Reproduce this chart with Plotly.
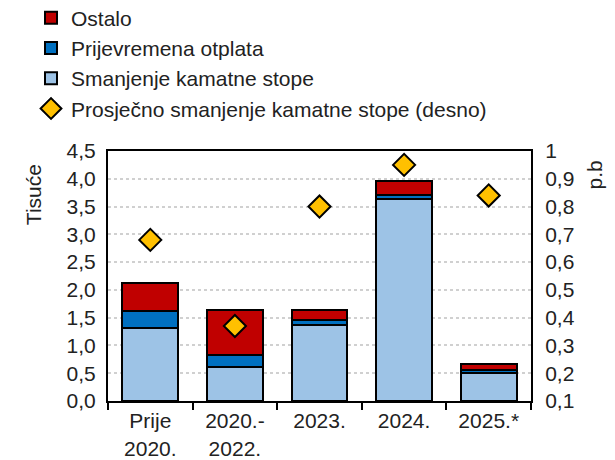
import plotly.graph_objects as go

categories = ["Prije<br>2020.", "2020.-<br>2022.", "2023.", "2024.", "2025.*"]

smanjenje = [1.31, 0.62, 1.37, 3.64, 0.50]
prijevremena = [0.31, 0.21, 0.08, 0.06, 0.06]
ostalo = [0.51, 0.80, 0.18, 0.26, 0.11]
prosjecno = [0.68, 0.37, 0.80, 0.95, 0.84]

left_ticks = [0, 0.5, 1, 1.5, 2, 2.5, 3, 3.5, 4, 4.5]
right_ticks = [0.1, 0.2, 0.3, 0.4, 0.5, 0.6, 0.7, 0.8, 0.9, 1.0]
right_labels = ["0,1", "0,2", "0,3", "0,4", "0,5", "0,6", "0,7", "0,8", "0,9", "1"]

FONT = "Liberation Sans, Arial, sans-serif"

fig = go.Figure()

fig.add_trace(go.Bar(x=categories, y=smanjenje, name="Smanjenje kamatne stope",
                     marker=dict(color="#9DC3E6", line=dict(color="black", width=2)),
                     legendgroup="c", legendrank=3))
fig.add_trace(go.Bar(x=categories, y=prijevremena, name="Prijevremena otplata",
                     marker=dict(color="#0070C0", line=dict(color="black", width=2)),
                     legendgroup="b", legendrank=2))
fig.add_trace(go.Bar(x=categories, y=ostalo, name="Ostalo",
                     marker=dict(color="#C00000", line=dict(color="black", width=2)),
                     legendgroup="a", legendrank=1))
fig.add_trace(go.Scatter(x=categories, y=prosjecno, yaxis="y2", mode="markers",
                         name="Prosječno smanjenje kamatne stope (desno)",
                         marker=dict(symbol="diamond", size=17, color="#FFC000",
                                     line=dict(color="black", width=2)),
                         legendgroup="d", legendrank=4))

fig.update_layout(
    width=615, height=460,
    margin=dict(l=100, r=92, t=143, b=67, autoexpand=False),
    paper_bgcolor="white", plot_bgcolor="white",
    font=dict(family=FONT, size=21, color="#222222"),
    separators=", ",
    barmode="stack", bargap=0.34,
    showlegend=True,
    legend=dict(x=-0.182, y=1.614, xanchor="left", yanchor="top", orientation="v",
                traceorder="grouped", tracegroupgap=0,
                font=dict(size=21), bgcolor="rgba(0,0,0,0)"),
    xaxis=dict(type="category", showline=True, linecolor="black", linewidth=2,
               mirror=True, ticks="outside", tickson="boundaries", ticklen=7,
               tickcolor="black", tickwidth=2, showgrid=False),
    yaxis=dict(range=[0, 4.5], tickvals=left_ticks, tickformat=".1f",
               showline=True, linecolor="black", linewidth=2,
               showgrid=True, gridcolor="#d0d0d0", griddash="dot", gridwidth=1.5,
               zeroline=False, ticks="", ticklabelstandoff=6),
    yaxis2=dict(range=[0.1, 1.0], overlaying="y", side="right",
                tickvals=right_ticks, ticktext=right_labels,
                showline=True, linecolor="black", linewidth=2,
                showgrid=False, zeroline=False, ticks="", ticklabelstandoff=8),
    annotations=[
        dict(text="Tisuće", xref="paper", yref="paper", x=-0.177, y=0.824,
             xanchor="center", yanchor="middle", textangle=-90,
             showarrow=False, font=dict(size=21)),
        dict(text="p.b", xref="paper", yref="paper", x=1.15, y=0.904,
             xanchor="center", yanchor="middle", textangle=-90,
             showarrow=False, font=dict(size=21)),
    ],
)

fig.write_html("out.html")
